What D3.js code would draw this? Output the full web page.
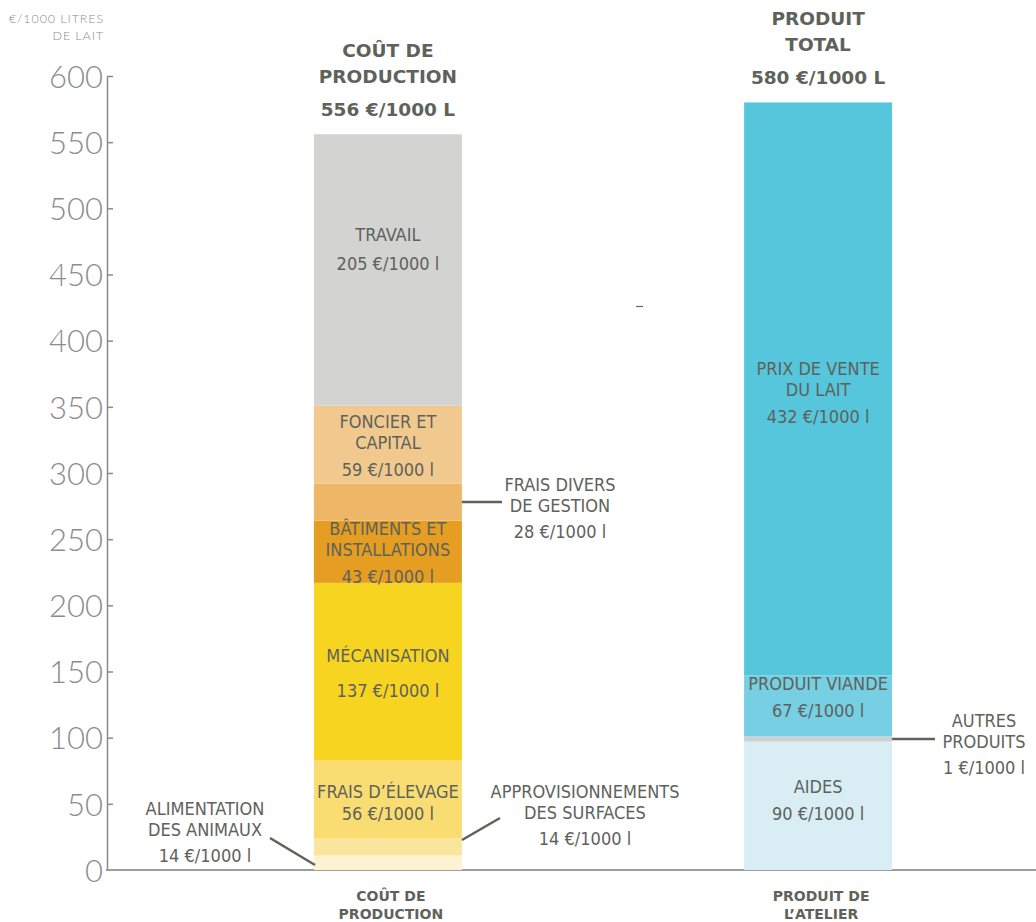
<!DOCTYPE html>
<html>
<head>
<meta charset="utf-8">
<script src="https://cdn.jsdelivr.net/npm/d3@7"></script>
<style>
  body { margin: 0; background: #fff; }
  svg { display: block; }
  .seg-label { font-family: "DejaVu Sans Condensed", "DejaVu Sans", sans-serif; font-stretch: condensed; font-size: 18px; fill: #5e625b; }
  .titre { font-family: "DejaVu Sans", sans-serif; font-weight: bold; font-size: 18.5px; fill: #5e625b; }
  .cat { font-family: "DejaVu Sans", sans-serif; font-weight: bold; font-size: 14px; fill: #5e625b; }
  .axis text { font-family: Lato, sans-serif; font-weight: 300; font-size: 31px; fill: #8c8c8c; }
</style>
</head>
<body>
<svg id="chart" width="1036" height="922"></svg>
<script>
// categories (bars)
const categories = ["COÛT DE PRODUCTION", "PRODUIT DE L'ATELIER"];

// cout de production, bottom to top
const coutNoms = [
  ["ALIMENTATION", "DES ANIMAUX"],
  ["APPROVISIONNEMENTS", "DES SURFACES"],
  ["FRAIS D’ÉLEVAGE"],
  ["MÉCANISATION"],
  ["BÂTIMENTS ET", "INSTALLATIONS"],
  ["FRAIS DIVERS", "DE GESTION"],
  ["FONCIER ET", "CAPITAL"],
  ["TRAVAIL"]
];
const coutValeurs = [14, 14, 56, 137, 43, 28, 59, 205];   // printed values
const coutHauteurs = [11, 13, 59, 134, 47, 28, 59, 205];  // drawn heights
const coutCouleurs = ["#fdf3d2", "#f9e59b", "#f9dd72", "#f6d420", "#e59d22", "#edb767", "#f1c98f", "#d3d3d1"];

// produit total, bottom to top
const produitNoms = [
  ["AIDES"],
  ["AUTRES", "PRODUITS"],
  ["PRODUIT VIANDE"],
  ["PRIX DE VENTE", "DU LAIT"]
];
const produitValeurs = [90, 1, 67, 432];
const produitHauteurs = [97, 4, 46, 433];
const produitCouleurs = ["#d8eef4", "#cdd1d1", "#76cfe2", "#55c6dc"];

const totaux = [556, 580];
const titres = [["COÛT DE", "PRODUCTION"], ["PRODUIT", "TOTAL"]];
const yTicks = [0, 50, 100, 150, 200, 250, 300, 350, 400, 450, 500, 550, 600];

const svg = d3.select('#chart');
const textCol = "#5e625b";

const y = d3.scaleLinear().domain([0, 600]).range([870, 76]);
const x = d3.scaleBand().domain(categories)
  .range([107, 1099]).paddingInner(0.656).paddingOuter(0.481);

// axes
const yAxis = svg.append('g').attr('class', 'axis')
  .attr('transform', 'translate(107,0)')
  .call(d3.axisLeft(y).tickValues(yTicks).tickSizeInner(-6).tickSizeOuter(0).tickPadding(4));
yAxis.select('.domain').attr('stroke', '#8a8a8a').attr('stroke-width', 1.5);
yAxis.selectAll('.tick line').attr('stroke', '#8a8a8a').attr('stroke-width', 1.5);
yAxis.selectAll('.tick text').attr('dy', '0.36em');
yAxis.selectAll('.tick').filter(d => d === 0).select('line').remove();

svg.append('line')
  .attr('x1', 106).attr('x2', 1036)
  .attr('y1', y(0)).attr('y2', y(0))
  .attr('stroke', '#9a9e9c').attr('stroke-width', 2);

// axis unit
svg.append('text')
  .attr('x', 104).attr('y', 23)
  .attr('text-anchor', 'end')
  .style('font-family', 'Lato, sans-serif').style('font-weight', 300)
  .style('font-size', '12.5px').style('letter-spacing', '0.9px').style('fill', '#8c8c8c')
  .selectAll('tspan').data(["€/1000 LITRES", "DE LAIT"]).enter()
  .append('tspan').attr('x', 104).attr('dy', (d, i) => i ? 17 : 0).text(d => d);

function stack(hauteurs) {
  let cum = 0;
  return hauteurs.map(h => { const s = {y0: cum, y1: cum + h}; cum += h; return s; });
}

const bars = [
  {cat: categories[0], noms: coutNoms, valeurs: coutValeurs, s: stack(coutHauteurs), couleurs: coutCouleurs},
  {cat: categories[1], noms: produitNoms, valeurs: produitValeurs, s: stack(produitHauteurs), couleurs: produitCouleurs}
];

// label placement: inside nudge, or outside with leader
const placement = {
  "TRAVAIL": {nudge: -20, gap: 29},
  "FONCIER ET": {nudge: 1},
  "BÂTIMENTS ET": {nudge: 1},
  "MÉCANISATION": {nudge: 2, gap: 35},
  "FRAIS D’ÉLEVAGE": {nudge: 4, gap: 22},
  "PRIX DE VENTE": {nudge: 4},
  "PRODUIT VIANDE": {nudge: -8},
  "AIDES": {nudge: -5},
  "FRAIS DIVERS": {out: true, tx: 560, ty: 485, side: 'right', lx2: 502},
  "AUTRES": {out: true, tx: 984, ty: 721, side: 'right', lx2: 935},
  "ALIMENTATION": {out: true, tx: 205, ty: 809, line: [270, 838, 315, 865]},
  "APPROVISIONNEMENTS": {out: true, tx: 585, ty: 792, line: [462, 840, 500, 818]}
};

bars.forEach(b => {
  const g = svg.append('g');
  const x0 = x(b.cat), bw = x.bandwidth(), cx = x0 + bw / 2;

  g.selectAll('rect').data(b.s).enter().append('rect')
    .attr('x', x0).attr('width', bw)
    .attr('y', d => y(d.y1))
    .attr('height', d => y(d.y0) - y(d.y1))
    .attr('fill', (d, i) => b.couleurs[i]);

  b.noms.forEach((noms, i) => {
    const p = placement[noms[0]];
    const lignes = noms.concat([b.valeurs[i] + " €/1000 l"]);
    const mid = (y(b.s[i].y0) + y(b.s[i].y1)) / 2;
    let tx, pos;
    if (p.out) {
      tx = p.tx;
      pos = lignes.map((l, k) => p.ty + (k < noms.length ? k * 20.5 : (noms.length - 1) * 20.5 + 26));
      if (p.side === 'right') {
        g.append('line').attr('x1', x0 + bw).attr('x2', p.lx2)
          .attr('y1', mid).attr('y2', mid)
          .attr('stroke', textCol).attr('stroke-width', 2.5);
      } else {
        g.append('line').attr('x1', p.line[0]).attr('y1', p.line[1])
          .attr('x2', p.line[2]).attr('y2', p.line[3])
          .attr('stroke', textCol).attr('stroke-width', 2.5);
      }
    } else {
      tx = cx;
      const gap = p.gap || 27;
      const rel = lignes.map((l, k) => k < noms.length ? k * 21 : (noms.length - 1) * 21 + gap);
      const c = rel[rel.length - 1] / 2;
      pos = rel.map(r => mid - c + r + p.nudge);
    }
    g.selectAll(null).data(lignes).enter().append('text')
      .attr('class', 'seg-label')
      .attr('x', tx).attr('y', (d, k) => pos[k] + 6)
      .attr('text-anchor', 'middle')
      .text(d => d);
  });
});

// titles above bars
bars.forEach((b, i) => {
  const cx = x(b.cat) + x.bandwidth() / 2;
  const top = y(totaux[i]);
  const t = titres[i].concat([totaux[i] + " €/1000 L"]);
  const offs = [-84, -58, -25];
  svg.selectAll(null).data(t).enter().append('text')
    .attr('class', 'titre')
    .attr('x', cx).attr('y', (d, k) => top + offs[k] + 7)
    .attr('text-anchor', 'middle')
    .text(d => d);
});

// category labels under axis
svg.selectAll('.cat').data(categories).enter().append('text')
  .attr('class', 'cat')
  .attr('text-anchor', 'middle')
  .attr('x', d => x(d) + x.bandwidth() / 2 + 3)
  .attr('y', 901)
  .each(function(d) {
    const parts = d === categories[0] ? ["COÛT DE", "PRODUCTION"] : ["PRODUIT DE", "L’ATELIER"];
    const cx = x(d) + x.bandwidth() / 2 + 3;
    d3.select(this).selectAll('tspan').data(parts).enter().append('tspan')
      .attr('x', cx).attr('dy', (p, k) => k ? 18 : 0).text(p => p);
  });

// small stray mark in the original
svg.append('line').attr('x1', 636).attr('x2', 643).attr('y1', 306.5).attr('y2', 306.5)
  .attr('stroke', '#666').attr('stroke-width', 1.2);
</script>
</body>
</html>
